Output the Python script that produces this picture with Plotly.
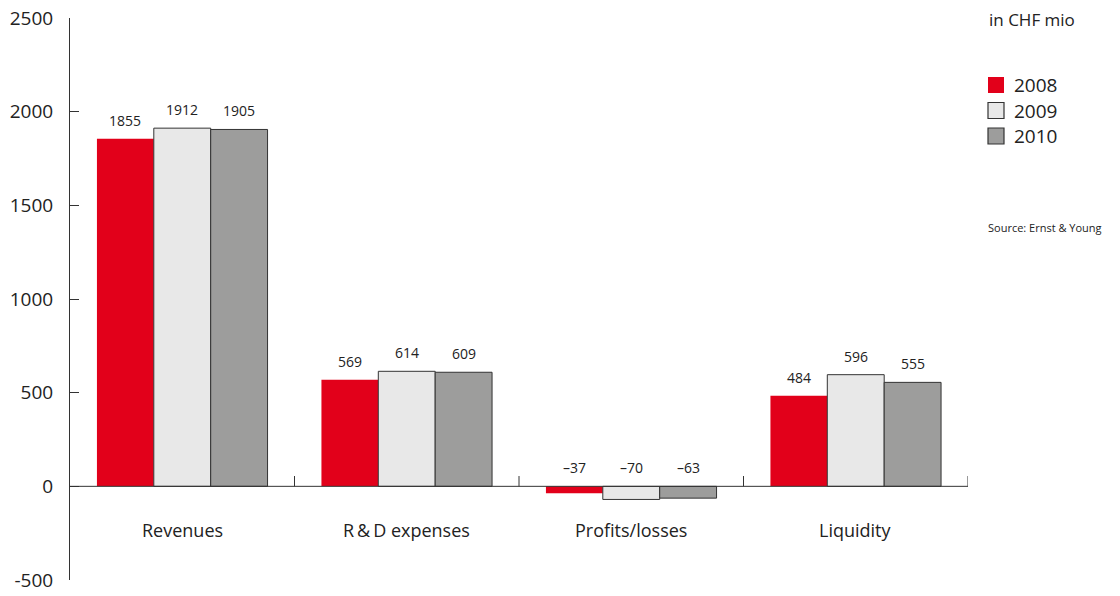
import plotly.graph_objects as go

categories = ["Revenues", "R\u2009&\u2009D expenses", "Profits/losses", "Liquidity"]
years = ["2008", "2009", "2010"]
v2008 = [1855, 569, -37, 484]
v2009 = [1912, 614, -70, 596]
v2010 = [1905, 609, -63, 555]
y_ticks = [-500, 0, 500, 1000, 1500, 2000, 2500]
y_tick_text = ["-500", "0", "500", "1000", "1500", "2000", "2500"]

series = [v2008, v2009, v2010]
colors = ["#e2001a", "#e8e8e8", "#9d9d9c"]
line_w = [0, 1, 1]
FONT = "Open Sans"
TXT = "#222222"

fig = go.Figure()
for name, vals, c, lw in zip(years, series, colors, line_w):
    fig.add_trace(go.Bar(
        x=categories, y=vals, name=name, showlegend=False,
        marker=dict(color=c, line=dict(color="#333333" if lw else c, width=lw)),
        hoverinfo="skip",
    ))

ann = []
bar_px = 57
for i, vals in enumerate(series):
    for cat, v in zip(categories, vals):
        txt = str(v).replace("-", "\u2013")
        ann.append(dict(x=cat, y=max(v, 0), xref="x", yref="y", text=txt,
                        showarrow=False, yanchor="bottom", yshift=7,
                        xshift=(i - 1) * bar_px,
                        font=dict(size=14, color=TXT, family=FONT)))
for cat in categories:
    ann.append(dict(x=cat, y=0, xref="x", yref="y", text=cat, showarrow=False,
                    yanchor="top", yshift=-30,
                    font=dict(size=18, color=TXT, family=FONT)))
ann.append(dict(x=1.0212, y=1 - 1.5 / 562, xref="paper", yref="paper", text="in CHF mio",
                showarrow=False, xanchor="left", yanchor="middle",
                font=dict(size=17, color=TXT, family=FONT)))
ann.append(dict(x=1.020, y=0.628, xref="paper", yref="paper", text="Source: Ernst & Young",
                showarrow=False, xanchor="left", yanchor="middle",
                font=dict(size=11, color=TXT, family=FONT)))

shapes = [dict(type="line", xref="paper", yref="y", x0=0, x1=1, y0=0, y1=0,
               line=dict(color="#333333", width=1))]
for b in [0.5, 1.5, 2.5, 3.5]:
    shapes.append(dict(type="line", xref="x", yref="y", x0=b, x1=b, y0=0, y1=55,
                       line=dict(color="#333333", width=1)))

# manual legend (16px squares)
leg_x = (988 - 70) / 898
leg_y0 = 1 - (85 - 18) / 562
row_h = 25.5 / 562
for k, (name, c, lw) in enumerate(zip(years, colors, line_w)):
    yc = leg_y0 - k * row_h
    shapes.append(dict(type="rect", xref="paper", yref="paper",
                       xsizemode="pixel", ysizemode="pixel",
                       xanchor=leg_x, yanchor=yc, x0=0, x1=16, y0=-8, y1=8,
                       fillcolor=c,
                       line=dict(color="#333333" if lw else c, width=1.2 if lw else 0)))
    ann.append(dict(x=leg_x + 24 / 898, y=yc, xref="paper", yref="paper", text=name,
                    showarrow=False, xanchor="left", yanchor="middle",
                    font=dict(size=19, color=TXT, family=FONT)))

fig.update_layout(
    width=1112, height=588,
    margin=dict(l=62, r=152, t=10, b=16, autoexpand=False),
    paper_bgcolor="white", plot_bgcolor="white",
    barmode="group", bargap=0.24, bargroupgap=0,
    font=dict(family=FONT, color=TXT),
    showlegend=False,
    xaxis=dict(showticklabels=False, showline=False, showgrid=False, zeroline=False,
               range=[-0.5, 3.5], automargin=False),
    yaxis=dict(range=[-500, 2500], tickvals=y_ticks, ticktext=y_tick_text,
               showgrid=False, zeroline=False, automargin=False,
               showline=True, linecolor="#333333", linewidth=1,
               ticks="inside", ticklen=9, tickcolor="#333333",
               ticklabelstandoff=12, ticklabeloverflow="allow",
               tickfont=dict(size=19, color=TXT, family=FONT)),
    annotations=ann, shapes=shapes,
)
fig.write_html("out.html")
